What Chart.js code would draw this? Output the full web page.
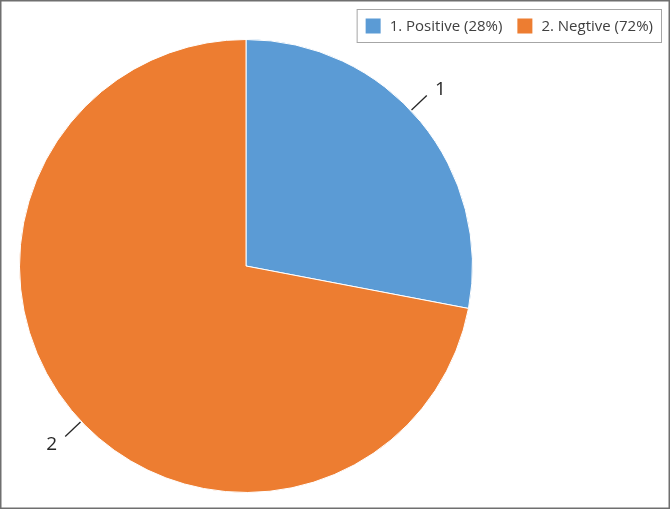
<!DOCTYPE html>
<html>
<head>
<meta charset="utf-8">
<script src="https://cdn.jsdelivr.net/npm/chart.js@4/dist/chart.umd.min.js"></script>
<style>
html,body{margin:0;padding:0;background:#fff;}
#wrap{width:670px;height:509px;position:relative;}
canvas{display:block;}
</style>
</head>
<body>
<div id="wrap"><canvas id="c" width="670" height="509"></canvas></div>
<script>
const categories = ["1", "2"];
const legendLabels = ["1. Positive (28%)", "2. Negtive (72%)"];
const values = [28, 72];
const colors = ["#5B9BD5", "#ED7D31"];

const FONT = '15px "Open Sans", "Noto Sans", sans-serif';
const LABEL_FONT = '19px "Open Sans", "Noto Sans", sans-serif';

const decor = {
  id: 'decor',
  afterDraw(chart) {
    const ctx = chart.ctx;
    ctx.save();
    // outer border
    ctx.strokeStyle = '#6f6f6f';
    ctx.lineWidth = 1.5;
    ctx.strokeRect(0.75, 0.75, chart.width - 1.5, chart.height - 1.5);

    // leader lines + labels
    const meta = chart.getDatasetMeta(0);
    meta.data.forEach((arc, i) => {
      const p = arc.getProps(['x','y','startAngle','endAngle','outerRadius'], true);
      const midA = (p.startAngle + p.endAngle) / 2;
      const mid = midA - 0.065;
      const lab = midA - 0.05;
      const r1 = p.outerRadius + 1, r2 = p.outerRadius + 22, r3 = p.outerRadius + 37;
      ctx.strokeStyle = '#262626';
      ctx.lineWidth = 1.3;
      ctx.beginPath();
      ctx.moveTo(p.x + Math.cos(mid) * r1, p.y + Math.sin(mid) * r1);
      ctx.lineTo(p.x + Math.cos(mid) * r2, p.y + Math.sin(mid) * r2);
      ctx.stroke();
      ctx.fillStyle = '#262626';
      ctx.font = LABEL_FONT;
      ctx.textAlign = 'center';
      ctx.textBaseline = 'middle';
      ctx.fillText(chart.data.labels[i], p.x + Math.cos(lab) * r3, p.y + Math.sin(lab) * r3 + 1);
    });

    // legend
    ctx.font = FONT;
    const sq = 15, padL = 9, gapT = 9, gapI = 15, padR = 9;
    const widths = legendLabels.map(t => ctx.measureText(t).width);
    let total = padL + padR;
    widths.forEach((w, i) => { total += sq + gapT + w + (i < widths.length - 1 ? gapI : 0); });
    const right = 662, top = 9, h = 34;
    const left = right - total;
    ctx.fillStyle = '#fff';
    ctx.fillRect(left, top, total, h);
    ctx.strokeStyle = '#a6a6a6';
    ctx.lineWidth = 1;
    ctx.strokeRect(left + 0.5, top + 0.5, total - 1, h - 1);
    let x = left + padL;
    const cy = top + h / 2;
    legendLabels.forEach((t, i) => {
      ctx.fillStyle = colors[i];
      ctx.fillRect(x, cy - sq / 2, sq, sq);
      x += sq + gapT;
      ctx.fillStyle = '#404040';
      ctx.textAlign = 'left';
      ctx.textBaseline = 'middle';
      ctx.fillText(t, x, cy + 1);
      x += widths[i] + gapI;
    });
    ctx.restore();
  }
};

new Chart(document.getElementById('c'), {
  type: 'pie',
  data: {
    labels: categories,
    datasets: [{
      data: values,
      backgroundColor: colors,
      borderColor: '#ffffff',
      borderWidth: 1
    }]
  },
  options: {
    responsive: false,
    animation: false,
    layout: { padding: { left: 19, right: 197, top: 39, bottom: 16 } },
    plugins: { legend: { display: false }, tooltip: { enabled: false } }
  },
  plugins: [decor]
});
</script>
</body>
</html>
